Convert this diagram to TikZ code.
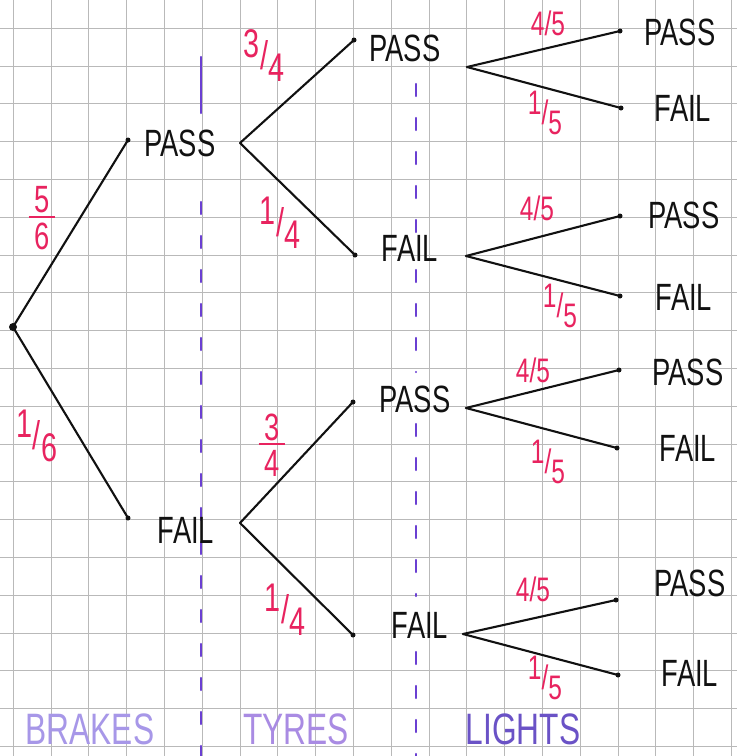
\documentclass[tikz,border=0pt]{standalone}
\usepackage{fontspec}
\newfontfamily\hand[FakeStretch=0.72]{Liberation Sans}
\definecolor{ink}{HTML}{111111}
\definecolor{pinkink}{HTML}{E8235F}
\definecolor{violetink}{HTML}{6A3FD2}
\definecolor{lilac}{HTML}{A797E8}
\definecolor{lilacb}{HTML}{A98BE3}
\definecolor{deepviolet}{HTML}{6A52C6}
\definecolor{gridgrey}{HTML}{B9B9B9}
\newcommand{\slfrac}[2]{\raisebox{0.3em}{#1}/\raisebox{-0.3em}{#2}}
\newcommand{\stfrac}[2]{\shortstack{#1\\[0pt]\rule{0.7em}{1.8pt}\\[2pt]#2}}
\begin{document}
\begin{tikzpicture}[x=1pt,y=-1pt,
  branch/.style={draw=ink, line width=2.1pt, line cap=round},
  word/.style={font=\hand\fontsize{38}{38}\selectfont, text=ink, inner sep=0pt},
  prob/.style={font=\hand\fontsize{34}{34}\selectfont, text=pinkink, inner sep=0pt},
  bigprob/.style={font=\hand\fontsize{40}{40}\selectfont, text=pinkink, inner sep=0pt},
  stackprob/.style={font=\hand\fontsize{38}{38}\selectfont, text=pinkink, inner sep=0pt},
  divider/.style={draw=violetink, line width=2.2pt, line cap=round, dash pattern=on 12pt off 22pt},
  stage/.style={font=\hand\fontsize{44}{44}\selectfont, inner sep=0pt},
  dot/.style={circle, fill=ink, inner sep=0pt, minimum size=5pt}]
\useasboundingbox (0,0) rectangle (737,756);
\fill[white] (0,0) rectangle (737,756);
% grid paper
\foreach \i in {0,...,19} {
  \draw[gridgrey, line width=1pt] ({13.3+37.8*\i},0) -- ({13.3+37.8*\i},756);
  \draw[gridgrey, line width=1pt] (0,{28.3+37.8*\i}) -- (737,{28.3+37.8*\i});
}
% dividers
\draw[violetink, line width=2.2pt, line cap=round] (201,57) -- (201,113);
\draw[divider] (201,202) -- (201,756);
\draw[divider] (416,84) -- (416,232);
\draw[divider] (416,270) -- (416,372);
\draw[divider] (416,424) -- (416,596);
\draw[divider] (416,652) -- (416,756);
% points
\node[dot, minimum size=8pt] (root) at (13,327) {};
\node[dot] (bP) at (128,140) {};
\node[dot] (bF) at (128,518) {};
\coordinate (tPs) at (240,143);
\coordinate (tFs) at (240,523);
\node[dot] (t1P) at (354,40) {};
\node[dot] (t1F) at (355,255) {};
\node[dot] (t2P) at (353,402) {};
\node[dot] (t2F) at (353,635) {};
\coordinate (l1s) at (467,67);
\coordinate (l2s) at (466,256);
\coordinate (l3s) at (466,408);
\coordinate (l4s) at (463,634);
\node[dot] (l1P) at (620,31) {};
\node[dot] (l1F) at (621,108) {};
\node[dot] (l2P) at (620,216) {};
\node[dot] (l2F) at (620,296) {};
\node[dot] (l3P) at (619,370) {};
\node[dot] (l3F) at (617,448) {};
\node[dot] (l4P) at (616,600) {};
\node[dot] (l4F) at (618,675) {};
% branches
\draw[branch] (root.center) -- (bP.center);
\draw[branch] (root.center) -- (bF.center);
\draw[branch] (tPs) -- (t1P.center);
\draw[branch] (tPs) -- (t1F.center);
\draw[branch] (tFs) -- (t2P.center);
\draw[branch] (tFs) -- (t2F.center);
\draw[branch] (l1s) -- (l1P.center);
\draw[branch] (l1s) -- (l1F.center);
\draw[branch] (l2s) -- (l2P.center);
\draw[branch] (l2s) -- (l2F.center);
\draw[branch] (l3s) -- (l3P.center);
\draw[branch] (l3s) -- (l3F.center);
\draw[branch] (l4s) -- (l4P.center);
\draw[branch] (l4s) -- (l4F.center);
% outcome words
\node[word] (wbP) at (180,143) {PASS};
\node[word] (wbF) at (186,530) {FAIL};
\node[word] (wt1P) at (405,48) {PASS};
\node[word] (wt1F) at (410,248) {FAIL};
\node[word] (wt2P) at (415,399) {PASS};
\node[word] (wt2F) at (420,625) {FAIL};
\node[word] (wl1P) at (680,32) {PASS};
\node[word] (wl1F) at (683,108) {FAIL};
\node[word] (wl2P) at (684,215) {PASS};
\node[word] (wl2F) at (684,297) {FAIL};
\node[word] (wl3P) at (688,372) {PASS};
\node[word] (wl3F) at (688,448) {FAIL};
\node[word] (wl4P) at (690,583) {PASS};
\node[word] (wl4F) at (690,673) {FAIL};
% probabilities
\node[stackprob] (p56) at (42,218) {\stfrac{5}{6}};
\node[bigprob] (p16) at (37,436) {\slfrac{1}{6}};
\node[bigprob] (p34a) at (264,56) {\slfrac{3}{4}};
\node[bigprob] (p14a) at (280,223) {\slfrac{1}{4}};
\node[stackprob] (p34b) at (272,445) {\stfrac{3}{4}};
\node[bigprob] (p14b) at (285,610) {\slfrac{1}{4}};
\node[prob] (q1a) at (548,23) {4/5};
\node[prob] (q1b) at (545,113) {\slfrac{1}{5}};
\node[prob] (q2a) at (537,208) {4/5};
\node[prob] (q2b) at (560,306) {\slfrac{1}{5}};
\node[prob] (q3a) at (533,370) {4/5};
\node[prob] (q3b) at (548,462) {\slfrac{1}{5}};
\node[prob] (q4a) at (533,589) {4/5};
\node[prob] (q4b) at (545,678) {\slfrac{1}{5}};
% stage labels
\node[stage, text=lilac] (sB) at (90,729) {BRAKES};
\node[stage, text=lilacb] (sT) at (296,729) {TYRES};
\node[stage, text=deepviolet] (sL) at (523,729) {LIGHTS};
\end{tikzpicture}
\end{document}
